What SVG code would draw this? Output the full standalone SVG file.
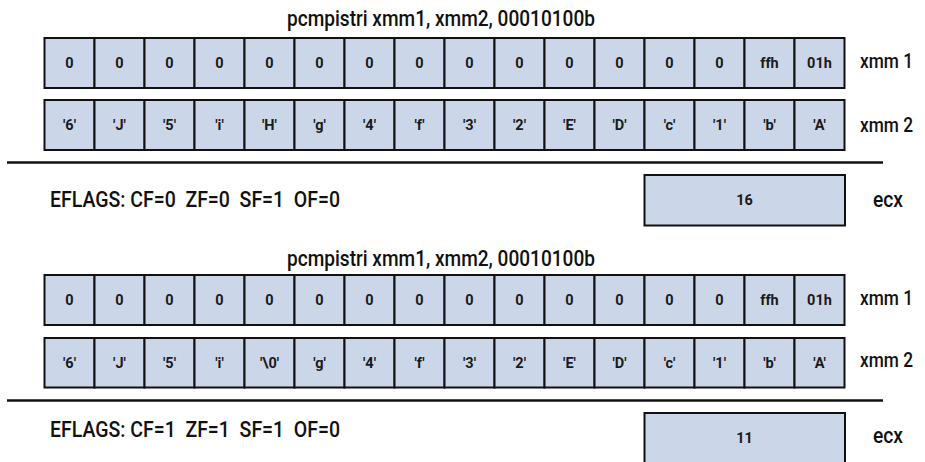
<svg xmlns="http://www.w3.org/2000/svg" width="925" height="462" viewBox="0 0 925 462">
<style>
.cell{fill:#cbd7e8;stroke:#111;stroke-width:2}
.ct{font-family:Roboto,"Liberation Sans",sans-serif;font-size:14.5px;font-weight:700;fill:#1a1a1a;text-anchor:middle}
.lbl{font-family:Roboto,"Liberation Sans",sans-serif;font-size:22px;font-weight:500;fill:#111}
.reg{font-family:Roboto,"Liberation Sans",sans-serif;font-size:20.5px;font-weight:500;fill:#111}
.sep{stroke:#111;stroke-width:2.5}
</style>
<rect width="925" height="462" fill="#fff"/>

<!-- Block 1 -->
<text id="title1" class="lbl" x="287" y="26" textLength="308" lengthAdjust="spacingAndGlyphs">pcmpistri xmm1, xmm2, 00010100b</text>

<g id="b1-xmm1">
<rect class="cell" x="44.5" y="38" width="50" height="50"/><text class="ct" x="69.5" y="67.5">0</text>
<rect class="cell" x="94.5" y="38" width="50" height="50"/><text class="ct" x="119.5" y="67.5">0</text>
<rect class="cell" x="144.5" y="38" width="50" height="50"/><text class="ct" x="169.5" y="67.5">0</text>
<rect class="cell" x="194.5" y="38" width="50" height="50"/><text class="ct" x="219.5" y="67.5">0</text>
<rect class="cell" x="244.5" y="38" width="50" height="50"/><text class="ct" x="269.5" y="67.5">0</text>
<rect class="cell" x="294.5" y="38" width="50" height="50"/><text class="ct" x="319.5" y="67.5">0</text>
<rect class="cell" x="344.5" y="38" width="50" height="50"/><text class="ct" x="369.5" y="67.5">0</text>
<rect class="cell" x="394.5" y="38" width="50" height="50"/><text class="ct" x="419.5" y="67.5">0</text>
<rect class="cell" x="444.5" y="38" width="50" height="50"/><text class="ct" x="469.5" y="67.5">0</text>
<rect class="cell" x="494.5" y="38" width="50" height="50"/><text class="ct" x="519.5" y="67.5">0</text>
<rect class="cell" x="544.5" y="38" width="50" height="50"/><text class="ct" x="569.5" y="67.5">0</text>
<rect class="cell" x="594.5" y="38" width="50" height="50"/><text class="ct" x="619.5" y="67.5">0</text>
<rect class="cell" x="644.5" y="38" width="50" height="50"/><text class="ct" x="669.5" y="67.5">0</text>
<rect class="cell" x="694.5" y="38" width="50" height="50"/><text class="ct" x="719.5" y="67.5">0</text>
<rect class="cell" x="744.5" y="38" width="50" height="50"/><text class="ct" x="769.5" y="67.5">ffh</text>
<rect class="cell" x="794.5" y="38" width="50" height="50"/><text class="ct" x="819.5" y="67.5">01h</text>
<text class="reg" x="860" y="68" textLength="53" lengthAdjust="spacingAndGlyphs">xmm 1</text>
</g>

<g id="b1-xmm2">
<rect class="cell" x="44.5" y="100" width="50" height="50"/><text class="ct" x="69.5" y="130">'6'</text>
<rect class="cell" x="94.5" y="100" width="50" height="50"/><text class="ct" x="119.5" y="130">'J'</text>
<rect class="cell" x="144.5" y="100" width="50" height="50"/><text class="ct" x="169.5" y="130">'5'</text>
<rect class="cell" x="194.5" y="100" width="50" height="50"/><text class="ct" x="219.5" y="130">'i'</text>
<rect class="cell" x="244.5" y="100" width="50" height="50"/><text class="ct" x="269.5" y="130">'H'</text>
<rect class="cell" x="294.5" y="100" width="50" height="50"/><text class="ct" x="319.5" y="130">'g'</text>
<rect class="cell" x="344.5" y="100" width="50" height="50"/><text class="ct" x="369.5" y="130">'4'</text>
<rect class="cell" x="394.5" y="100" width="50" height="50"/><text class="ct" x="419.5" y="130">'f'</text>
<rect class="cell" x="444.5" y="100" width="50" height="50"/><text class="ct" x="469.5" y="130">'3'</text>
<rect class="cell" x="494.5" y="100" width="50" height="50"/><text class="ct" x="519.5" y="130">'2'</text>
<rect class="cell" x="544.5" y="100" width="50" height="50"/><text class="ct" x="569.5" y="130">'E'</text>
<rect class="cell" x="594.5" y="100" width="50" height="50"/><text class="ct" x="619.5" y="130">'D'</text>
<rect class="cell" x="644.5" y="100" width="50" height="50"/><text class="ct" x="669.5" y="130">'c'</text>
<rect class="cell" x="694.5" y="100" width="50" height="50"/><text class="ct" x="719.5" y="130">'1'</text>
<rect class="cell" x="744.5" y="100" width="50" height="50"/><text class="ct" x="769.5" y="130">'b'</text>
<rect class="cell" x="794.5" y="100" width="50" height="50"/><text class="ct" x="819.5" y="130">'A'</text>
<text class="reg" x="860" y="132" textLength="53" lengthAdjust="spacingAndGlyphs">xmm 2</text>
</g>

<g id="b1-flags">
<text class="lbl" x="50" y="207" textLength="290" lengthAdjust="spacingAndGlyphs" xml:space="preserve">EFLAGS: CF=0  ZF=0  SF=1  OF=0</text>
</g>
<g id="b1-ecx">
<rect class="cell" x="644.5" y="175" width="200.5" height="50.5"/>
<text class="ct" x="744.5" y="205">16</text>
<text class="lbl" x="873" y="207" textLength="30" lengthAdjust="spacingAndGlyphs">ecx</text>
</g>

<!-- Block 2 -->
<text id="title2" class="lbl" x="287" y="266" textLength="308" lengthAdjust="spacingAndGlyphs">pcmpistri xmm1, xmm2, 00010100b</text>

<g id="b2-xmm1">
<rect class="cell" x="44.5" y="275" width="50" height="50"/><text class="ct" x="69.5" y="305">0</text>
<rect class="cell" x="94.5" y="275" width="50" height="50"/><text class="ct" x="119.5" y="305">0</text>
<rect class="cell" x="144.5" y="275" width="50" height="50"/><text class="ct" x="169.5" y="305">0</text>
<rect class="cell" x="194.5" y="275" width="50" height="50"/><text class="ct" x="219.5" y="305">0</text>
<rect class="cell" x="244.5" y="275" width="50" height="50"/><text class="ct" x="269.5" y="305">0</text>
<rect class="cell" x="294.5" y="275" width="50" height="50"/><text class="ct" x="319.5" y="305">0</text>
<rect class="cell" x="344.5" y="275" width="50" height="50"/><text class="ct" x="369.5" y="305">0</text>
<rect class="cell" x="394.5" y="275" width="50" height="50"/><text class="ct" x="419.5" y="305">0</text>
<rect class="cell" x="444.5" y="275" width="50" height="50"/><text class="ct" x="469.5" y="305">0</text>
<rect class="cell" x="494.5" y="275" width="50" height="50"/><text class="ct" x="519.5" y="305">0</text>
<rect class="cell" x="544.5" y="275" width="50" height="50"/><text class="ct" x="569.5" y="305">0</text>
<rect class="cell" x="594.5" y="275" width="50" height="50"/><text class="ct" x="619.5" y="305">0</text>
<rect class="cell" x="644.5" y="275" width="50" height="50"/><text class="ct" x="669.5" y="305">0</text>
<rect class="cell" x="694.5" y="275" width="50" height="50"/><text class="ct" x="719.5" y="305">0</text>
<rect class="cell" x="744.5" y="275" width="50" height="50"/><text class="ct" x="769.5" y="305">ffh</text>
<rect class="cell" x="794.5" y="275" width="50" height="50"/><text class="ct" x="819.5" y="305">01h</text>
<text class="reg" x="860" y="305" textLength="53" lengthAdjust="spacingAndGlyphs">xmm 1</text>
</g>

<g id="b2-xmm2">
<rect class="cell" x="44.5" y="338" width="50" height="49.5"/><text class="ct" x="69.5" y="367.5">'6'</text>
<rect class="cell" x="94.5" y="338" width="50" height="49.5"/><text class="ct" x="119.5" y="367.5">'J'</text>
<rect class="cell" x="144.5" y="338" width="50" height="49.5"/><text class="ct" x="169.5" y="367.5">'5'</text>
<rect class="cell" x="194.5" y="338" width="50" height="49.5"/><text class="ct" x="219.5" y="367.5">'i'</text>
<rect class="cell" x="244.5" y="338" width="50" height="49.5"/><text class="ct" x="269.5" y="367.5">'\0'</text>
<rect class="cell" x="294.5" y="338" width="50" height="49.5"/><text class="ct" x="319.5" y="367.5">'g'</text>
<rect class="cell" x="344.5" y="338" width="50" height="49.5"/><text class="ct" x="369.5" y="367.5">'4'</text>
<rect class="cell" x="394.5" y="338" width="50" height="49.5"/><text class="ct" x="419.5" y="367.5">'f'</text>
<rect class="cell" x="444.5" y="338" width="50" height="49.5"/><text class="ct" x="469.5" y="367.5">'3'</text>
<rect class="cell" x="494.5" y="338" width="50" height="49.5"/><text class="ct" x="519.5" y="367.5">'2'</text>
<rect class="cell" x="544.5" y="338" width="50" height="49.5"/><text class="ct" x="569.5" y="367.5">'E'</text>
<rect class="cell" x="594.5" y="338" width="50" height="49.5"/><text class="ct" x="619.5" y="367.5">'D'</text>
<rect class="cell" x="644.5" y="338" width="50" height="49.5"/><text class="ct" x="669.5" y="367.5">'c'</text>
<rect class="cell" x="694.5" y="338" width="50" height="49.5"/><text class="ct" x="719.5" y="367.5">'1'</text>
<rect class="cell" x="744.5" y="338" width="50" height="49.5"/><text class="ct" x="769.5" y="367.5">'b'</text>
<rect class="cell" x="794.5" y="338" width="50" height="49.5"/><text class="ct" x="819.5" y="367.5">'A'</text>
<text class="reg" x="860" y="367" textLength="53" lengthAdjust="spacingAndGlyphs">xmm 2</text>
</g>

<g id="b2-flags">
<text class="lbl" x="50" y="437" textLength="290" lengthAdjust="spacingAndGlyphs" xml:space="preserve">EFLAGS: CF=1  ZF=1  SF=1  OF=0</text>
</g>
<g id="b2-ecx">
<rect class="cell" x="644.5" y="413" width="200.5" height="52"/>
<text class="ct" x="744.5" y="443">11</text>
<text class="lbl" x="873" y="443" textLength="30" lengthAdjust="spacingAndGlyphs">ecx</text>
</g>

<g id="connectors">
<line class="sep" x1="7" y1="162.5" x2="883" y2="162.5"/>
<line class="sep" x1="7" y1="400.5" x2="883" y2="400.5"/>
</g>
</svg>
